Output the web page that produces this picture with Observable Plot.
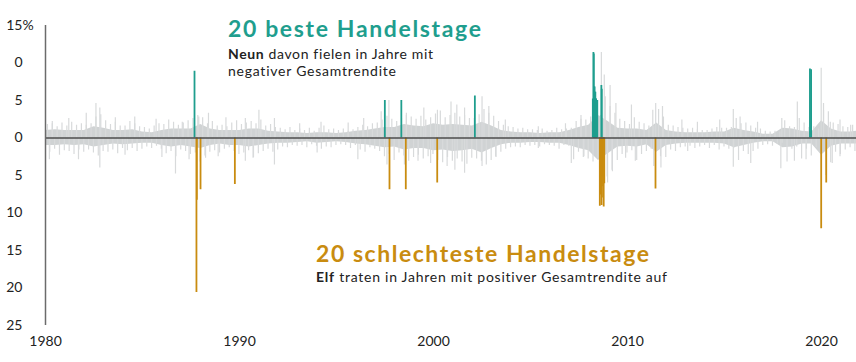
<!DOCTYPE html>
<html><head><meta charset="utf-8">
<script src="https://cdn.jsdelivr.net/npm/d3@7"></script>
<script src="https://cdn.jsdelivr.net/npm/@observablehq/plot@0.6"></script>
<style>body{margin:0;background:#fff;} svg{display:block;} svg text{font-variant-ligatures:none;}</style>
</head><body><div id="chart"></div>
<script>
// Grey background: dense core of daily returns (half-yearly envelope, %)
const bandYears = [1980,1980.5,1981,1981.5,1982,1982.5,1983,1983.5,1984,1984.5,
  1985,1985.5,1986,1986.5,1987,1987.5,1988,1988.5,1989,1989.5,
  1990,1990.5,1991,1991.5,1992,1992.5,1993,1993.5,1994,1994.5,
  1995,1995.5,1996,1996.5,1997,1997.5,1998,1998.5,1999,1999.5,
  2000,2000.5,2001,2001.5,2002,2002.5,2003,2003.5,2004,2004.5,
  2005,2005.5,2006,2006.5,2007,2007.5,2008,2008.5,2009,2009.5,
  2010,2010.5,2011,2011.5,2012,2012.5,2013,2013.5,2014,2014.5,
  2015,2015.5,2016,2016.5,2017,2017.5,2018,2018.5,2019,2019.5,
  2020,2020.5,2021,2021.5,2021.8];
const bandUpper = [1.0,1.1,1.0,1.0,1.0,1.5,1.3,1.0,1.0,1.1,
  0.8,0.7,1.0,1.2,1.2,1.2,1.8,1.2,1.0,1.0,
  1.0,1.2,1.2,0.9,0.8,0.7,0.7,0.6,0.7,0.7,
  0.6,0.7,0.9,1.0,1.2,1.4,1.4,1.8,1.6,1.5,
  1.9,1.7,1.8,1.7,1.6,2.1,1.6,1.0,0.8,0.7,
  0.7,0.6,0.7,0.7,1.0,1.4,1.7,3.0,2.2,1.3,
  1.2,1.2,1.0,2.0,1.0,0.8,0.7,0.7,0.7,0.8,
  0.8,1.3,1.0,0.8,0.5,0.5,1.3,1.2,0.9,0.8,
  2.3,1.2,0.8,0.8,0.9];
const bandLower = [-1.0,-1.0,-0.9,-1.0,-0.9,-1.2,-1.0,-0.8,-0.9,-0.8,
  -0.7,-0.7,-1.0,-1.2,-1.0,-1.2,-1.4,-1.0,-0.8,-1.0,
  -1.0,-1.2,-1.0,-0.8,-0.7,-0.7,-0.6,-0.5,-0.7,-0.6,
  -0.5,-0.6,-0.8,-0.9,-1.1,-1.3,-1.2,-1.6,-1.4,-1.4,
  -1.7,-1.6,-1.8,-1.7,-1.5,-2.0,-1.4,-0.9,-0.7,-0.7,
  -0.6,-0.6,-0.7,-0.7,-1.0,-1.4,-1.7,-3.0,-2.1,-1.2,
  -1.1,-1.2,-0.9,-1.9,-1.0,-0.8,-0.7,-0.7,-0.7,-0.7,
  -0.8,-1.3,-1.0,-0.7,-0.5,-0.5,-1.3,-1.2,-0.8,-0.8,
  -2.3,-1.1,-0.8,-0.8,-0.8];

// Grey typical daily moves, quarterly readings (year, up %, down %)
const minorYears = [
  1980.1,1980.35,1980.6,1980.85, 1981.1,1981.35,1981.6,1981.85, 1982.1,1982.35,1982.6,1982.85, 1983.1,1983.35,1983.6,1983.85, 1984.1,1984.35,1984.6,1984.85,
  1985.1,1985.35,1985.6,1985.85, 1986.1,1986.35,1986.6,1986.85, 1987.1,1987.35,1987.6,1987.85, 1988.1,1988.35,1988.6,1988.85, 1989.1,1989.35,1989.6,1989.85,
  1990.1,1990.35,1990.6,1990.85, 1991.1,1991.35,1991.6,1991.85, 1992.1,1992.35,1992.6,1992.85, 1993.1,1993.35,1993.6,1993.85, 1994.1,1994.35,1994.6,1994.85,
  1995.1,1995.35,1995.6,1995.85, 1996.1,1996.35,1996.6,1996.85, 1997.1,1997.35,1997.6,1997.85, 1998.1,1998.35,1998.6,1998.85, 1999.1,1999.35,1999.6,1999.85,
  2000.1,2000.35,2000.6,2000.85, 2001.1,2001.35,2001.6,2001.85, 2002.1,2002.35,2002.6,2002.85, 2003.1,2003.35,2003.6,2003.85, 2004.1,2004.35,2004.6,2004.85,
  2005.1,2005.35,2005.6,2005.85, 2006.1,2006.35,2006.6,2006.85, 2007.1,2007.35,2007.6,2007.85, 2008.1,2008.35,2008.6,2008.85, 2009.1,2009.35,2009.6,2009.85,
  2010.1,2010.35,2010.6,2010.85, 2011.1,2011.35,2011.6,2011.85, 2012.1,2012.35,2012.6,2012.85, 2013.1,2013.35,2013.6,2013.85, 2014.1,2014.35,2014.6,2014.85,
  2015.1,2015.35,2015.6,2015.85, 2016.1,2016.35,2016.6,2016.85, 2017.1,2017.35,2017.6,2017.85, 2018.1,2018.35,2018.6,2018.85, 2019.1,2019.35,2019.6,2019.85,
  2020.1,2020.35,2020.6,2020.85, 2021.1,2021.35,2021.6];
const minorUp = [
  1.8,2.2,1.5,2.0, 1.6,2.1,1.7,1.9, 1.7,1.9,2.8,3.1, 2.3,1.8,2.1,1.6, 1.6,2.2,1.9,1.5,
  1.4,1.2,1.6,1.9, 1.8,2.4,2.1,1.7, 2.0,2.3,2.6,3.0, 2.7,1.9,2.2,1.6, 1.7,1.5,2.0,2.3,
  1.8,2.0,2.2,1.9, 2.4,1.6,1.8,1.4, 1.3,1.1,1.4,1.0, 1.2,1.0,1.3,0.9, 1.3,1.6,1.1,1.2,
  1.0,1.2,0.9,1.1, 1.4,1.7,1.5,1.9, 2.0,2.4,2.9,2.5, 2.2,2.6,3.0,2.8, 2.5,2.9,2.4,2.7,
  3.2,3.6,2.7,3.0, 3.3,2.8,3.0,2.6, 2.6,3.1,3.8,3.3, 2.9,2.2,1.7,1.5, 1.4,1.2,1.3,1.1,
  1.1,1.0,1.2,0.9, 1.0,1.3,1.1,1.2, 1.3,2.2,2.5,2.4, 2.8,3.4,3.0,5.5, 4.2,3.3,2.5,2.2,
  1.8,2.7,2.1,1.9, 1.6,1.5,3.8,2.8, 1.7,1.6,1.4,1.3, 1.2,1.3,1.1,1.0, 1.0,1.2,1.4,1.3,
  1.3,1.4,2.6,1.9, 2.0,1.6,1.3,1.2, 0.9,0.8,0.9,0.8, 2.3,1.5,1.4,2.6, 2.0,1.4,1.5,1.2,
  4.6,3.5,2.0,1.8, 1.5,1.4,1.7];
const minorDown = [
  -1.9,-1.5,-2.3,-1.7, -1.8,-2.2,-1.6,-1.9, -1.6,-2.0,-2.4,-1.8, -1.9,-1.6,-2.1,-1.4, -1.7,-1.4,-1.8,-1.5,
  -1.2,-1.4,-1.1,-1.5, -2.1,-1.8,-2.5,-1.6, -1.8,-2.2,-2.0,-3.2, -2.4,-1.9,-1.7,-2.0, -1.5,-1.3,-1.8,-2.2,
  -2.0,-1.7,-2.6,-2.1, -1.8,-1.5,-1.9,-1.6, -1.2,-1.3,-1.0,-1.1, -1.0,-1.3,-0.9,-1.1, -1.5,-1.2,-1.3,-1.0,
  -0.9,-1.0,-1.4,-1.0, -1.6,-1.9,-1.3,-1.5, -1.8,-2.5,-2.2,-3.0, -2.0,-2.4,-3.1,-2.6, -2.3,-2.8,-2.5,-2.2,
  -3.0,-3.3,-2.6,-3.1, -2.8,-3.2,-3.5,-2.7, -2.8,-3.1,-3.6,-3.0, -2.6,-1.9,-1.5,-1.3, -1.2,-1.3,-1.0,-1.1,
  -1.0,-1.2,-0.9,-1.0, -1.1,-1.5,-1.0,-1.1, -2.9,-1.9,-2.6,-2.8, -3.2,-2.7,-3.8,-6.0, -4.5,-3.0,-2.2,-2.0,
  -1.7,-3.0,-2.2,-1.8, -1.5,-1.7,-4.0,-2.6, -1.6,-1.8,-1.3,-1.2, -1.1,-1.4,-1.2,-1.0, -1.4,-1.0,-1.6,-1.2,
  -1.5,-1.4,-3.0,-1.8, -2.2,-1.8,-1.5,-1.0, -0.9,-1.1,-0.8,-0.7, -3.2,-1.5,-1.2,-2.8, -1.5,-2.4,-1.3,-1.1,
  -5.0,-3.3,-1.9,-2.2, -1.6,-1.3,-1.8];

// Grey notable single-day spikes (year, daily return %)
const spikeYears = [1980.35,1981.2,1982.1,1982.6,1982.8,1983.6,1984.6,1985.7,1987.05,1987.9,1988.4,1989.3,1990.3,
  1980.2,1981.7,1982.8,1984.1,1986.0,1986.7,1987.4,1988.25,1988.9,1990.3,
  1991.0,1991.8,1993.1,1994.2,1995.6,1996.4,1997.3,1997.7,1998.6,1999.5,2000.2,2000.9,2001.2,
  1990.7,1991.8,1994.0,1996.1,1997.6,1998.5,1999.2,1999.85,2000.7,2001.1,
  2001.6,2002.5,2002.85,2003.7,2005.4,2006.8,2007.6,2008.65,2008.8,2009.1,2009.4,2010.2,2011.3,2011.45,
  2001.6,2002.5,2003.2,2005.4,2007.1,2007.75,2008.95,2009.2,2009.9,2010.4,2011.35,
  2011.8,2012.8,2013.6,2014.75,2015.45,2015.8,2016.7,2017.95,2018.75,2019.98,2020.1,2020.45,2020.95,2021.5,
  2011.7,2013.1,2015.45,2016.35,2017.9,2018.6,2019.2,2020.55,2020.95];
const spikeValues = [1.9,2.6,3.3,4.6,4.0,2.7,2.8,2.5,2.1,2.8,3.3,2.7,2.6,
  -2.9,-2.9,-4.0,-2.3,-2.6,-4.8,-2.9,-2.7,-2.5,-3.1,
  3.7,2.6,1.9,2.1,2.0,2.6,3.5,5.0,3.3,4.0,3.7,4.8,4.4,
  -2.7,-3.6,-2.0,-2.9,-3.6,-3.6,-3.1,-3.4,-3.8,-4.3,
  4.0,5.5,4.2,2.4,1.5,1.9,3.0,11.4,8.4,7.0,4.6,4.4,3.7,4.6,
  -4.7,-3.8,-2.5,-1.4,-3.4,-2.5,-5.2,-4.3,-2.7,-3.1,-3.8,
  4.2,2.4,2.1,2.4,3.8,2.8,2.1,2.6,4.8,9.3,3.7,2.1,2.4,1.7,
  -2.5,-1.8,-3.9,-3.4,-4.1,-3.1,-2.9,-3.4,-2.5];

// 20 best trading days
const bestYears = [1987.68,1997.49,1998.34,2002.13,2008.21,2008.24,2008.26,2008.28,2008.30,2008.32,2008.34,2008.36,2008.38,2008.40,2008.42,2008.44,2008.65,2008.67,2019.40,2019.46];
const bestValues = [8.9,5.0,5.0,5.6,5.2,11.4,11.2,6.8,6.8,6.1,6.1,5.2,5.2,5.0,5.0,5.0,7.0,6.5,9.2,9.1];

// 20 worst trading days
const worstYears = [1987.78,1987.80,1987.99,1989.76,1997.73,1998.57,2000.19,2008.57,2008.59,2008.62,2008.64,2008.66,2008.68,2008.71,2008.74,2008.77,2008.80,2011.44,2019.98,2020.24];
const worstValues = [-20.6,-8.3,-6.9,-6.2,-6.9,-6.9,-6.0,-9.1,-7.6,-5.3,-5.0,-9.0,-6.5,-5.2,-8.0,-9.2,-6.1,-6.8,-12.1,-6.0];

const yTicks = [15,10,5,0,-5,-10,-15,-20,-25];
const yTickLabels = ["15","0","5","0","5","10","15","20","25"];
const xTicks = [1980,1990,2000,2010,2020];

const bestTitle = "20 beste Handelstage";
const bestBold = "Neun";
const bestLine1 = " davon fielen in Jahre mit";
const bestLine2 = "negativer Gesamtrendite";
const worstTitle = "20 schlechteste Handelstage";
const worstBold = "Elf";
const worstLine1 = " traten in Jahren mit positiver Gesamtrendite auf";

const teal = "#1f9e8e", gold = "#c98c10", grey = "#d0d3d4", greyLight = "#d8dadb";

const band = bandYears.map((x, i) => ({x, hi: bandUpper[i], lo: bandLower[i]}));
const minor = minorYears.flatMap((x, i) => [{x, v: minorUp[i]}, {x: x + 0.12, v: minorDown[i]}]);
const spikes = spikeYears.map((x, i) => ({x, v: spikeValues[i]}));
const best = bestYears.map((x, i) => ({x, v: bestValues[i]}));
const worst = worstYears.map((x, i) => ({x, v: worstValues[i]}));

const chart = Plot.plot({
  width: 856, height: 362,
  marginLeft: 45, marginRight: 0, marginTop: 25, marginBottom: 37,
  style: {fontFamily: "Lato, sans-serif", fontSize: "14px", color: "#222", background: "#fff"},
  x: {domain: [1980, 2021.8]},
  y: {domain: [-25, 15]},
  marks: [
    Plot.areaY(band, {x: "x", y1: "lo", y2: "hi", fill: grey}),
    Plot.ruleX(minor, {x: "x", y1: 0, y2: "v", stroke: greyLight, strokeWidth: 1.2}),
    Plot.ruleX(spikes, {x: "x", y1: 0, y2: "v", stroke: greyLight, strokeWidth: 1.2}),
    Plot.ruleX(best, {x: "x", y1: 0, y2: "v", stroke: teal, strokeWidth: 1.8}),
    Plot.ruleX(worst, {x: "x", y1: 0, y2: "v", stroke: gold, strokeWidth: 1.8}),
    Plot.ruleY([0], {stroke: "#4d4d4d", strokeWidth: 1.5}),
    Plot.ruleX([1980], {stroke: "#6b6b6b", strokeWidth: 1.5}),
    Plot.axisY({ticks: yTicks, tickSize: 0, tickPadding: 23, tickFormat: d => yTickLabels[yTicks.indexOf(d)], label: null, fill: "#222"}),
    Plot.text([15], {y: d => d, frameAnchor: "left", dx: -23, textAnchor: "start", text: () => "%", fill: "#222"}),
    Plot.axisX({ticks: xTicks, tickSize: 0, tickPadding: 11, tickFormat: d => String(d), label: null, fill: "#222"})
  ]
});
document.getElementById("chart").append(chart);

// annotations placed through the chart's own scales
const sx = chart.scale("x"), sy = chart.scale("y");
const svg = d3.select(chart);
function addText(year, val, parts, size, len) {
  const t = svg.append("text")
    .attr("x", sx.apply(year)).attr("y", sy.apply(val))
    .attr("text-anchor", "start")
    .attr("font-family", "Lato, sans-serif").attr("font-size", size)
    .attr("textLength", len).attr("lengthAdjust", "spacing");
  parts.forEach(p => t.append("tspan").text(p.t).attr("font-weight", p.b ? "bold" : "normal").attr("fill", p.c || "#222"));
}
addText(1989.43, 13.36, [{t: bestTitle, b: true, c: teal}], 23, 253);
addText(1989.43, 10.42, [{t: bestBold, b: true}, {t: bestLine1}], 14, 205);
addText(1989.43, 8.23, [{t: bestLine2}], 14, 168);
addText(1993.97, -16.55, [{t: worstTitle, b: true, c: gold}], 23, 333);
addText(1993.97, -19.2, [{t: worstBold, b: true}, {t: worstLine1}], 14, 351);
</script></body></html>
